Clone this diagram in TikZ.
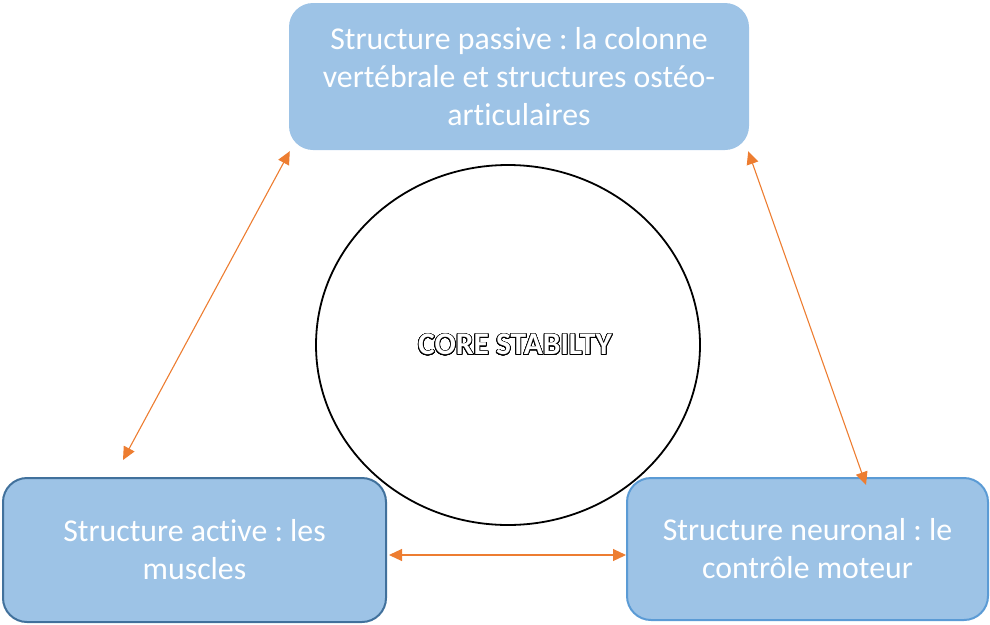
\documentclass[tikz,border=0pt]{standalone}
\usepackage{fontspec}
\setmainfont{Carlito}[Ligatures=NoCommon]
\usepackage{contour}
\contourlength{0.7pt}
\contournumber{32}
\usetikzlibrary{arrows.meta,shapes.geometric}
\definecolor{boxfill}{HTML}{9DC3E6}
\definecolor{borderA}{HTML}{41719C}
\definecolor{borderB}{HTML}{5B9BD5}
\definecolor{arr}{HTML}{ED7D31}
\tikzset{
  box/.style={rounded corners=24pt, fill=boxfill, text=white, align=center,
    font=\fontsize{31.8}{38}\selectfont, inner sep=0pt},
  link/.style={draw=arr, line width=1.1pt, {Triangle[length=13pt,width=12pt]}-{Triangle[length=13pt,width=12pt]}}
}
\frenchspacing
\begin{document}
\begin{tikzpicture}[x=1pt,y=-1pt]
\useasboundingbox (0,0) rectangle (990,624);
\node[box, minimum width=460pt, minimum height=147pt] (top) at (519,76.5)
  {Structure passive : la colonne\\vertébrale et structures ostéo-\\articulaires};
\node[box, draw=borderA, line width=2pt, minimum width=383pt, minimum height=144pt] (left) at (194.5,550)
  {Structure active : les\\muscles};
\node[box, draw=borderB, line width=2pt, minimum width=361pt, minimum height=142pt] (right) at (807.5,549)
  {Structure neuronal : le\\contrôle moteur};
\node[draw=black, line width=1.8pt, ellipse, minimum width=384pt, minimum height=360pt, inner sep=0pt] (core) at (508,345) {};
\node[font=\bfseries\fontsize{31.5}{36}\selectfont] (lbl) at (515,345) {\contour{black}{\textcolor{white}{CORE STABILTY}}};
\coordinate (a1) at (123,460);
\coordinate (b1) at (866,485);
\draw[link] (top.south west) ++(1,1) coordinate (t1) -- (a1);
\draw[link] (top.south east) ++(-1,1) coordinate (t2) -- (b1);
\draw[link] (left.east) ++(2,5) coordinate (l1) -- ++(237,0) coordinate (r1);
\end{tikzpicture}
\end{document}
